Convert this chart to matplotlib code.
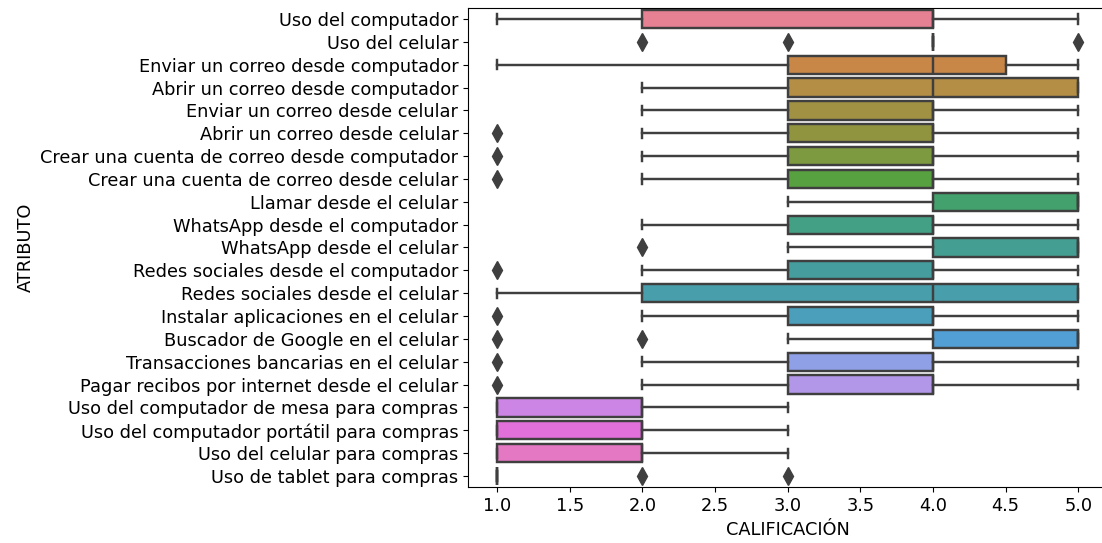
import numpy as np
import matplotlib
matplotlib.use("Agg")
import matplotlib.pyplot as plt
import seaborn as sns
import colorsys

atributos = [
    "Uso del computador",
    "Uso del celular",
    "Enviar un correo desde computador",
    "Abrir un correo desde computador",
    "Enviar un correo desde celular",
    "Abrir un correo desde celular",
    "Crear una cuenta de correo desde computador",
    "Crear una cuenta de correo desde celular",
    "Llamar desde el celular",
    "WhatsApp desde el computador",
    "WhatsApp desde el celular",
    "Redes sociales desde el computador",
    "Redes sociales desde el celular",
    "Instalar aplicaciones en el celular",
    "Buscador de Google en el celular",
    "Transacciones bancarias en el celular",
    "Pagar recibos por internet desde el celular",
    "Uso del computador de mesa para compras",
    "Uso del computador portátil para compras",
    "Uso del celular para compras",
    "Uso de tablet para compras",
]

# estadisticos
bigote_inf = [1, 4, 1, 2, 2, 2, 2, 2, 3, 2, 3, 2, 1, 2, 3, 2, 2, 1, 1, 1, 1]
q1 =         [2, 4, 3, 3, 3, 3, 3, 3, 4, 3, 4, 3, 2, 3, 4, 3, 3, 1, 1, 1, 1]
mediana =    [4, 4, 4, 4, 4, 4, 4, 4, 5, 4, 5, 4, 4, 4, 5, 4, 4, 2, 2, 2, 1]
q3 =         [4, 4, 4.5, 5, 4, 4, 4, 4, 5, 4, 5, 4, 5, 4, 5, 4, 4, 2, 2, 2, 1]
bigote_sup = [5, 4, 5, 5, 5, 5, 5, 5, 5, 5, 5, 5, 5, 5, 5, 5, 5, 3, 3, 3, 1]
atipicos = [[], [2, 3, 5], [], [], [], [1], [1], [1], [], [], [2], [1], [], [1],
            [1, 2], [1], [1], [], [], [], [2, 3]]

stats = []
for i in range(len(atributos)):
    stats.append({
        "whislo": bigote_inf[i], "q1": q1[i], "med": mediana[i],
        "q3": q3[i], "whishi": bigote_sup[i], "fliers": atipicos[i],
    })

colores = [sns.desaturate(c, 0.75) for c in sns.color_palette("husl", len(atributos))]
lum = min(colorsys.rgb_to_hls(*c)[1] for c in colores) * 0.6
gris = (lum, lum, lum)

plt.rcParams["font.size"] = 12.8

fig = plt.figure(figsize=(11.02, 5.43), dpi=100)
ax = fig.add_axes([0.4247, 0.1024, 0.5802, 0.8836])

lw = 1.75
lp = dict(color=gris, linewidth=lw)
b = ax.bxp(stats, positions=np.arange(len(atributos)), widths=0.8,
           orientation="horizontal", patch_artist=True,
           boxprops=dict(edgecolor=gris, linewidth=lw),
           whiskerprops=lp, capprops=lp, medianprops=lp,
           flierprops=dict(marker="d", markerfacecolor=gris,
                           markeredgecolor=gris, markersize=9, linestyle="none"))
for patch, c in zip(b["boxes"], colores):
    patch.set_facecolor(c)

ax.set_yticks(np.arange(len(atributos)))
ax.set_yticklabels(atributos)
ax.set_ylim(len(atributos) - 0.5, -0.5)
ax.set_xlim(0.8, 5.2)
ax.set_xticks([1.0, 1.5, 2.0, 2.5, 3.0, 3.5, 4.0, 4.5, 5.0])
ax.set_xlabel("CALIFICACIÓN")
ax.set_ylabel("ATRIBUTO")
ax.spines["right"].set_visible(False)

fig.savefig("out.png", dpi=100)
